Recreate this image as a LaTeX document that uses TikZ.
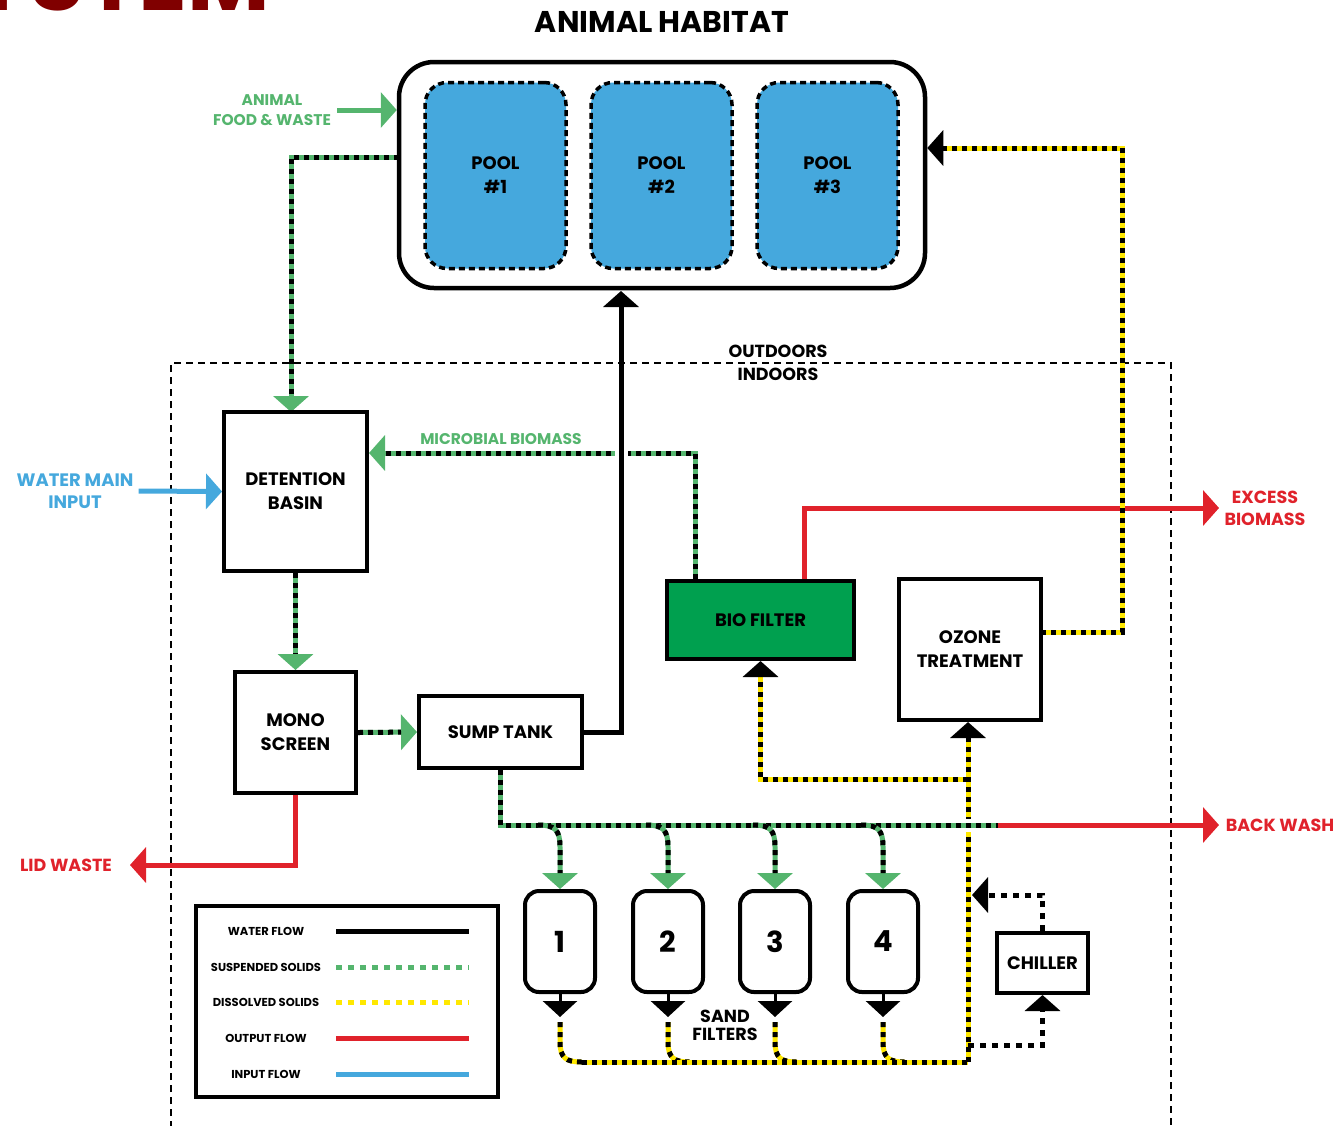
\documentclass[tikz,border=0pt]{standalone}
\usepackage{fontspec}
\setmainfont{Poppins}
\usetikzlibrary{arrows.meta}
\definecolor{sgreen}{HTML}{55B56E}
\definecolor{poolblue}{HTML}{45A8DD}
\definecolor{inblue}{HTML}{45A8DD}
\definecolor{ored}{HTML}{E0222B}
\definecolor{dyellow}{HTML}{FFE800}
\definecolor{biogreen}{HTML}{00A04F}
\definecolor{dred}{HTML}{800000}
\pgfdeclarelayer{bg}
\pgfsetlayers{bg,main}
\begin{document}
\begin{tikzpicture}[x=1pt,y=-1pt,
  box/.style={draw, line width=4pt, fill=white, align=center, inner sep=0pt,
    font=\fontsize{18}{24}\selectfont\bfseries},
  poolbox/.style={draw, dash pattern=on 6pt off 4pt, line width=3.5pt, fill=poolblue,
    rounded corners=22pt, minimum width=141pt, minimum height=186pt, align=center,
    inner sep=0pt, font=\fontsize{18}{24}\selectfont\bfseries},
  filt/.style={box, rounded corners=14pt, minimum width=70pt, minimum height=101pt,
    font=\fontsize{29}{29}\selectfont\bfseries},
  gtxt/.style={text=sgreen, align=center, inner sep=2pt, font=\fontsize{15.5}{20}\selectfont\bfseries},
  btxt/.style={text=inblue, align=center, inner sep=2pt, font=\fontsize{18}{22}\selectfont\bfseries},
  rtxt/.style={text=ored, align=center, inner sep=2pt, font=\fontsize{17.5}{22}\selectfont\bfseries},
  ktxt/.style={align=center, inner sep=1pt, font=\fontsize{17.5}{18}\selectfont\bfseries},
  lgtxt/.style={inner sep=0pt, font=\fontsize{11.5}{12}\selectfont\bfseries},
  gbase/.style={draw=sgreen, line width=5pt},
  ybase/.style={draw=dyellow, line width=5pt},
  ovl/.style={draw=black, line width=5pt, dash pattern=on 5pt off 5pt},
  blkdot/.style={draw=black, line width=5pt, dash pattern=on 6pt off 6pt},
  wline/.style={draw=black, line width=5pt},
  rline/.style={draw=ored, line width=5pt},
  bline/.style={draw=inblue, line width=5pt},
  gtip/.style={-{Triangle[length=16pt,width=35pt]}},
  ktip/.style={-{Triangle[length=16pt,width=35pt,color=black]}},
  halo/.style={draw=white, line width=13pt},
]
\useasboundingbox (0,0) rectangle (1337,1125);

% cropped title
\node[anchor=base east, inner sep=0pt, text=dred, font=\fontsize{90}{90}\selectfont\bfseries] (sys) at (270,10) {SYSTEM};
\node[font=\fontsize{30}{30}\selectfont\bfseries] (title) at (662,22) {ANIMAL HABITAT};

% habitat
\node[draw, line width=4.5pt, rounded corners=35pt, minimum width=526pt, minimum height=226pt, fill=white] (hab) at (662,175) {};
\node[poolbox] (p1) at (495.5,175.5) {POOL\\\#1};
\node[poolbox] (p2) at (661.5,175.5) {POOL\\\#2};
\node[poolbox] (p3) at (827.5,175.5) {POOL\\\#3};

\node[gtxt] (food) at (272,110) {ANIMAL\\FOOD \& WASTE};
\node[ktxt] (outd) at (778,351) {OUTDOORS};
\node[ktxt] (ind) at (778,374) {INDOORS};

\node[box, minimum width=143pt, minimum height=159pt] (det) at (295.5,491.5) {DETENTION\\BASIN};
\node[btxt] (wm) at (75,491) {WATER MAIN\\INPUT};
\node[gtxt] (mbl) at (501,439) {MICROBIAL BIOMASS};
\node[box, minimum width=121pt, minimum height=121pt] (mono) at (295.5,732.5) {MONO\\SCREEN};
\node[box, minimum width=163pt, minimum height=72pt] (sump) at (500.5,732) {SUMP TANK};
\node[box, minimum width=187pt, minimum height=78pt, fill=biogreen] (bio) at (760.5,620) {BIO FILTER};
\node[box, minimum width=142pt, minimum height=141pt] (ozone) at (970,649.5) {OZONE\\TREATMENT};
\node[box, minimum width=91pt, minimum height=60pt] (chil) at (1042.5,963) {CHILLER};

\node[filt] (f1) at (560,941.5) {1};
\node[filt] (f2) at (668,941.5) {2};
\node[filt] (f3) at (775,941.5) {3};
\node[filt] (f4) at (883,941.5) {4};
\node[ktxt] (sand) at (725,1025) {SAND\\FILTERS};

\node[rtxt] (ex) at (1265,508) {EXCESS\\BIOMASS};
\node[rtxt] (bw) at (1280,825) {BACK WASH};
\node[rtxt] (lw) at (66,865) {LID WASTE};

% legend
\node[draw, line width=4pt, minimum width=302pt, minimum height=191pt, fill=white] (leg) at (347,1001.5) {};
\node[lgtxt] (l1) at (266,931) {WATER FLOW};
\node[lgtxt] (l2) at (266,967) {SUSPENDED SOLIDS};
\node[lgtxt] (l3) at (266,1002) {DISSOLVED SOLIDS};
\node[lgtxt] (l4) at (266,1038) {OUTPUT FLOW};
\node[lgtxt] (l5) at (266,1074) {INPUT FLOW};
\draw[wline] (336,931) -- (469,931);
\draw[draw=sgreen, line width=5pt, dash pattern=on 6pt off 6pt] (336,967) -- (469,967);
\draw[draw=dyellow, line width=5pt, dash pattern=on 6pt off 6pt] (336,1002) -- (469,1002);
\draw[rline] (336,1038) -- (469,1038);
\draw[bline] (336,1074) -- (469,1074);

% coordinates
\coordinate (c-hw) at (399,157);
\coordinate (c-dn) at (291,412);
\coordinate (c-mb) at (695,453);
\coordinate (c-wf) at (621,291);
\coordinate (c-lw) at (130,865);
\coordinate (c-bw) at (998,825);
\coordinate (c-bwt) at (1219,825);
\coordinate (c-yj) at (968,1062);
\coordinate (c-yb) at (968,779);
\coordinate (c-oz) at (1041,632);
\coordinate (c-yr) at (1122,148);
\coordinate (c-ct) at (972,895);
\coordinate (c-cb) at (968,1045);
\coordinate (c-ex) at (804,508);
\coordinate (c-ext) at (1219,508);
\foreach \i/\x in {1/560,2/668,3/775,4/883}{
  \coordinate (b\i) at (\x-22,825);
  \coordinate (k\i) at (\x,847);
  \coordinate (y\i) at (\x,1022);
  \coordinate (z\i) at (\x+22,1062);
}

\begin{pgfonlayer}{bg}
% indoor/outdoor boundary
\draw[line width=2.5pt, dash pattern=on 7pt off 5pt] (171,1140) -- (171,363) -- (1171,363) -- (1171,1140);

% red outputs
\draw[rline, gtip] (bio.north -| c-ex) -- (c-ex) -- (c-ext);
\draw[rline, gtip] (mono.south) |- (c-lw);
\draw[rline, gtip] (c-bw) -- (c-bwt);

% input
\draw[bline, gtip, shorten <=3pt] (wm.east) -- (det.west);
% food
\draw[draw=sgreen, line width=5pt, gtip, shorten <=4pt] (food.east) -- (food.east -| hab.west);

% habitat -> detention
\draw[gbase, gtip] (c-hw) -| (c-dn);
\draw[ovl, shorten >=16pt] (c-hw) -| (c-dn);

% microbial biomass
\draw[gbase, gtip] (bio.north -| c-mb) -- (c-mb) -- (c-mb -| det.east);
\draw[ovl, shorten >=16pt] (bio.north -| c-mb) -- (c-mb) -- (c-mb -| det.east);

% detention -> mono -> sump
\draw[gbase, gtip] (det.south) -- (mono.north);
\draw[ovl, shorten >=16pt] (det.south) -- (mono.north);
\draw[gbase, gtip] (mono.east) -- (sump.west);
\draw[ovl, shorten >=16pt] (mono.east) -- (sump.west);

% yellow collection
\foreach \i in {1,2,3,4}{
  \draw[ybase] (y\i) -- ++(0,20) .. controls +(0,16) and +(-16,0) .. (z\i);
  \draw[ovl] (y\i) -- ++(0,20) .. controls +(0,16) and +(-16,0) .. (z\i);
}
\draw[ybase] (z1) -- (c-yj);
\draw[ovl] (z1) -- (c-yj);
\draw[ybase, ktip] (c-yj) -- (c-yj |- ozone.south);
\draw[ovl, shorten >=16pt] (c-yj) -- (c-yj |- ozone.south);
\draw[ybase, ktip] (c-yb) -| (bio.south);
\draw[ovl, shorten >=16pt] (c-yb) -| (bio.south);
\draw[ybase, ktip] (c-oz) -| (c-yr) -- (c-yr -| hab.east);
\draw[ovl, shorten >=16pt] (c-oz) -| (c-yr) -- (c-yr -| hab.east);

% sump -> sand filters
\draw[halo] ([xshift=-8pt]c-yj |- c-bw) -- ([xshift=8pt]c-yj |- c-bw);
\draw[gbase] (sump.south) |- (c-bw);
\draw[ovl] (sump.south) |- (c-bw);
\foreach \i in {1,2,3,4}{
  \draw[gbase, gtip] (b\i) .. controls +(17,0) and +(0,-17) .. (k\i) -- (f\i.north);
  \draw[ovl, shorten >=16pt] (b\i) .. controls +(17,0) and +(0,-17) .. (k\i) -- (f\i.north);
  \draw[line width=3pt, -{Triangle[length=16pt,width=34pt]}] (f\i.south) -- ++(0,23);
}

% chiller loop
\draw[blkdot, ktip] (chil.north) |- (c-ct);
\draw[blkdot, ktip] (c-cb) -| (chil.south);

% water flow to habitat
\draw[halo] ([yshift=7pt]c-mb -| c-wf) -- ([yshift=-7pt]c-mb -| c-wf);
\draw[wline, ktip] (sump.east) -| (c-wf);
\end{pgfonlayer}
\end{tikzpicture}
\end{document}
